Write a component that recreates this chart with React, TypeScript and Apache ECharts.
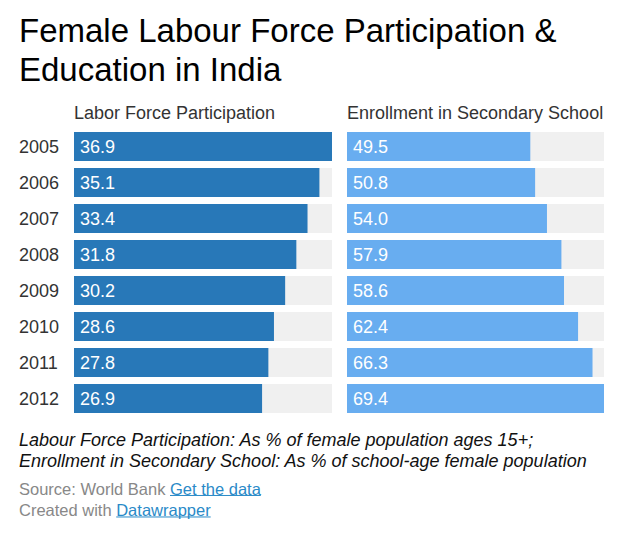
import React, { useEffect, useRef } from "react";
import * as echarts from "echarts";

const years = ["2005", "2006", "2007", "2008", "2009", "2010", "2011", "2012"];
const laborForce = [36.9, 35.1, 33.4, 31.8, 30.2, 28.6, 27.8, 26.9];
const enrollment = [49.5, 50.8, 54.0, 57.9, 58.6, 62.4, 66.3, 69.4];

const titleLines = ["Female Labour Force Participation &", "Education in India"];
const headers = ["Labor Force Participation", "Enrollment in Secondary School"];
const notes = [
  "Labour Force Participation: As % of female population ages 15+;",
  "Enrollment in Secondary School: As % of school-age female population",
];
const sourceLines = [
  ["Source: World Bank", "Get the data"],
  ["Created with", "Datawrapper"],
];

const FONT = "'Liberation Sans', Arial, Helvetica, sans-serif";
const LINK = "#2a8ac8";

function measure(text: string, size: number): number {
  const c = document.createElement("canvas").getContext("2d");
  if (!c) return text.length * size * 0.5;
  c.font = `${size}px ${FONT}`;
  return c.measureText(text).width;
}

export default function App() {
  const ref = useRef<HTMLDivElement>(null);
  useEffect(() => {
    if (!ref.current) return;
    const chart = echarts.init(ref.current, undefined, { renderer: "svg" });
    const grids = [
      { left: 74, width: 258, top: 128.5, height: 288 },
      { left: 347, width: 257, top: 128.5, height: 288 },
    ];
    const maxes = [Math.max(...laborForce), Math.max(...enrollment)];
    const colors = ["#2878b8", "#68adf0"];
    const datas = [laborForce, enrollment];
    const srcSize = 16.5;
    const srcTops = [480, 501.5];
    const underlines: any[] = sourceLines.map((pair, i) => {
      const x1 = 19 + measure(pair[0] + " ", srcSize);
      const x2 = x1 + measure(pair[1], srcSize);
      const y = srcTops[i] + srcSize * 0.847 + 1.5;
      return {
        type: "line",
        shape: { x1, y1: y, x2, y2: y },
        style: { stroke: LINK, lineWidth: 1 },
      };
    });
    chart.setOption({
      animation: false,
      textStyle: { fontFamily: FONT },
      grid: grids,
      xAxis: grids.map((_, i) => ({
        type: "value",
        gridIndex: i,
        min: 0,
        max: maxes[i],
        show: false,
      })),
      yAxis: grids.map((_, i) => ({
        type: "category",
        gridIndex: i,
        data: years,
        inverse: true,
        axisLine: { show: false },
        axisTick: { show: false },
        splitLine: { show: false },
        axisLabel: {
          show: i === 0,
          margin: 55,
          align: "left",
          color: "#333",
          fontSize: 18,
          fontFamily: FONT,
        },
      })),
      series: datas.map((d, i) => ({
        type: "bar",
        xAxisIndex: i,
        yAxisIndex: i,
        data: d,
        barWidth: 29,
        itemStyle: { color: colors[i] },
        showBackground: true,
        backgroundStyle: { color: "#f0f0f0" },
        label: {
          show: true,
          position: "insideLeft",
          distance: 6,
          color: "#fff",
          fontSize: 18,
          fontFamily: FONT,
          formatter: (p: any) => Number(p.value).toFixed(1),
        },
      })),
      graphic: [
        ...titleLines.map((t, i) => ({
          type: "text",
          left: 19,
          top: 14.3 + i * 38.5,
          style: { text: t, fontSize: 33, fill: "#000", fontFamily: FONT },
        })),
        ...headers.map((t, i) => ({
          type: "text",
          left: i === 0 ? 74 : 347,
          top: 104,
          style: { text: t, fontSize: 18, fill: "#333", fontFamily: FONT },
        })),
        ...notes.map((t, i) => ({
          type: "text",
          left: 19,
          top: 431 + i * 21,
          style: {
            text: t,
            fontSize: 18,
            fontStyle: "italic",
            fill: "#111",
            fontFamily: FONT,
          },
        })),
        ...sourceLines.map((pair, i) => ({
          type: "text",
          left: 19,
          top: srcTops[i],
          style: {
            text: `{g|${pair[0]}} {l|${pair[1]}}`,
            fontFamily: FONT,
            fontSize: srcSize,
            rich: {
              g: { fontSize: srcSize, fill: "#888", fontFamily: FONT },
              l: { fontSize: srcSize, fill: LINK, fontFamily: FONT },
            },
          },
        })),
        ...underlines,
      ],
    });
    return () => chart.dispose();
  }, []);
  return <div ref={ref} style={{ width: 641, height: 534, position: "absolute", left: 0, top: 0 }} />;
}
